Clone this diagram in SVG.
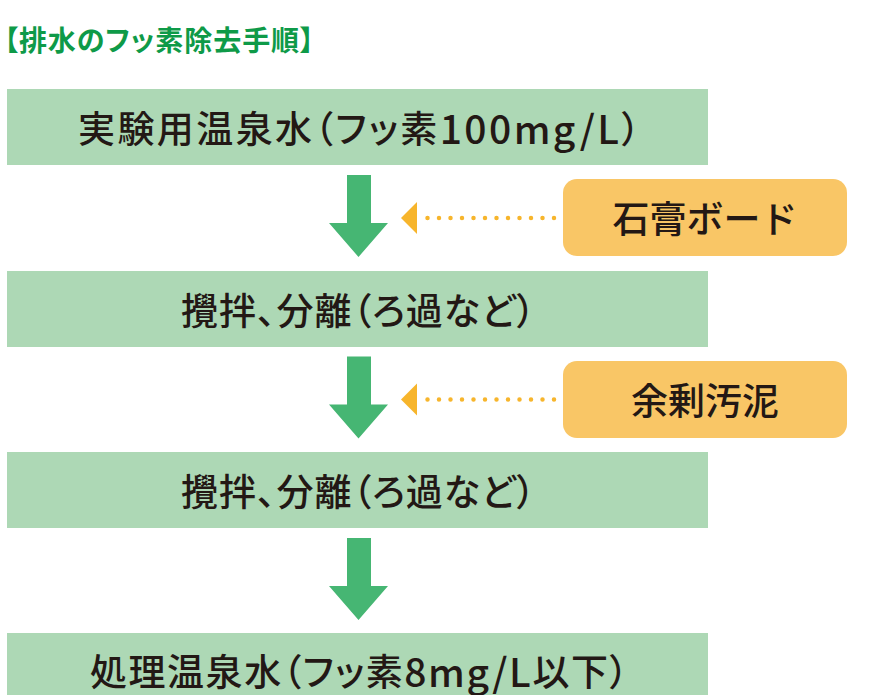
<svg xmlns="http://www.w3.org/2000/svg" width="882" height="695" viewBox="0 0 882 695">
<defs>
<style>
.title{font-family:"Noto Sans CJK JP","Noto Sans",sans-serif;font-size:28px;font-weight:bold;fill:#0E9A48;font-feature-settings:"palt"}
.box{fill:#ADD8B5}
.obox{fill:#F9C666}
.lbl{font-family:"Noto Sans CJK JP","Noto Sans",sans-serif;font-size:37px;font-weight:500;fill:#231815;text-anchor:middle;dominant-baseline:central}
.p{font-feature-settings:"palt"}
.lat{font-size:39px}
.arr{fill:#46B673}
.dot{stroke:#F7B52C;stroke-width:4.5;stroke-linecap:round;stroke-dasharray:0 11.5;fill:none}
.dhead{fill:#F7B52C}
</style>
</defs>
<rect width="882" height="695" fill="#FFFFFF"/>
<text class="title" x="4" y="51" textLength="310" lengthAdjust="spacing">【排水のフッ素除去手順】</text>
<g id="node1"><rect class="box" x="7" y="89" width="701" height="76"/><text class="lbl p" x="359" y="127" textLength="562" lengthAdjust="spacing">実験用温泉水（フッ素<tspan class="lat">100mg/L</tspan>）</text></g>
<g id="node2"><rect class="box" x="7" y="271" width="701" height="76"/><text class="lbl p" x="358" y="309" textLength="354" lengthAdjust="spacing">攪拌、分離（ろ過など）</text></g>
<g id="node3"><rect class="box" x="7" y="452" width="701" height="76"/><text class="lbl p" x="358" y="490" textLength="354" lengthAdjust="spacing">攪拌、分離（ろ過など）</text></g>
<g id="node4"><rect class="box" x="7" y="633" width="701" height="76"/><text class="lbl p" x="359" y="670" textLength="538" lengthAdjust="spacing">処理温泉水（フッ素<tspan class="lat">8mg/L</tspan>以下）</text></g>
<g id="node5"><rect class="obox" x="563" y="179" width="284" height="77" rx="14"/><text class="lbl" x="705" y="217">石膏ボード</text></g>
<g id="node6"><rect class="obox" x="563" y="361" width="284" height="77" rx="14"/><text class="lbl" x="705" y="399">余剰汚泥</text></g>
<g id="connectors">
<polygon class="arr" points="347,175 371,175 371,223 388,223 358.5,257 329,223 347,223"/>
<polygon class="arr" points="347,356.5 371,356.5 371,404.5 388,404.5 358.5,438.5 329,404.5 347,404.5"/>
<polygon class="arr" points="347,538 371,538 371,586 388,586 358.5,620 329,586 347,586"/>
<path class="dot" d="M554,218 L425,218"/>
<polygon class="dhead" points="401,218 417,202 417,234"/>
<path class="dot" d="M554,399.5 L425,399.5"/>
<polygon class="dhead" points="401,399.5 417,383.5 417,415.5"/>
</g>
</svg>
